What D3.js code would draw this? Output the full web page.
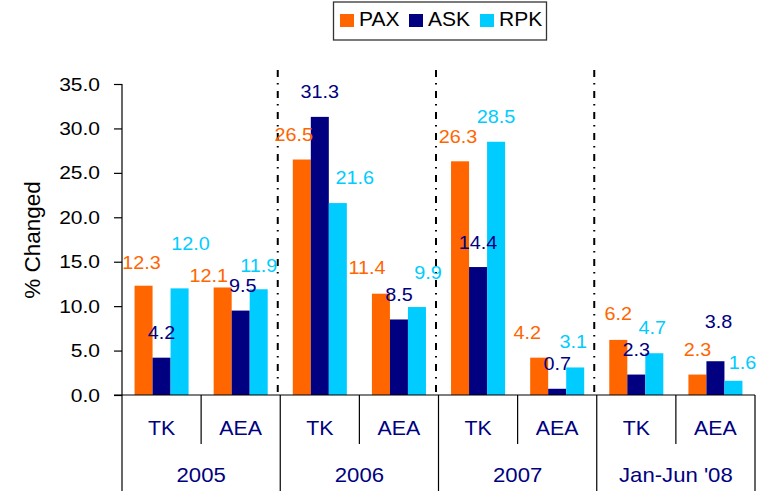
<!DOCTYPE html>
<html>
<head>
<meta charset="utf-8">
<script src="https://cdn.jsdelivr.net/npm/d3@7"></script>
<style>
  body { margin: 0; background: #fff; }
  svg { display: block; font-family: "Liberation Sans", Arial, sans-serif; }
</style>
</head>
<body>
<svg id="chart" width="766" height="491"></svg>
<script>
// data
var periods = ["2005", "2006", "2007", "Jan-Jun '08"];
var carriers = ["TK", "AEA"];
var seriesNames = ["PAX", "ASK", "RPK"];
var pax = [12.3, 12.1, 26.5, 11.4, 26.3, 4.2, 6.2, 2.3];
var ask = [4.2, 9.5, 31.3, 8.5, 14.4, 0.7, 2.3, 3.8];
var rpk = [12.0, 11.9, 21.6, 9.9, 28.5, 3.1, 4.7, 1.6];
var yTicks = [0, 5, 10, 15, 20, 25, 30, 35];

var colors = { PAX: "#FF6600", ASK: "#000080", RPK: "#00CCFF" };

// hand nudges for the data labels (they were moved around in the original)
var labelNudge = {
  PAX: [[-2, 2], [-14, 13], [-8, 0], [-14, -1], [-2, 0], [-12, 0], [0, -1], [0, 0]],
  ASK: [[0, 0], [2, 0], [0, 0], [0, 0], [0, 0], [0, 0], [0, 0], [3, -15]],
  RPK: [[11, -20], [0, 1], [17, -1], [11, -10], [0, 0], [-2, -1], [-2, -1], [9, 7]]
};

var svg = d3.select("#chart");

var plotLeft = 122, plotRight = 755, plotTop = 84, plotBottom = 395;

var cats = [];
periods.forEach(function (p) {
  carriers.forEach(function (c) { cats.push(p + "|" + c); });
});

var rows = cats.map(function (k, i) {
  return { key: k, carrier: k.split("|")[1], PAX: pax[i], ASK: ask[i], RPK: rpk[i], i: i };
});

var x0 = d3.scaleBand().domain(cats).range([plotLeft, plotRight]).padding(0);
var bw = x0.bandwidth();
var x1 = d3.scaleBand().domain(seriesNames)
  .range([(bw - bw * 0.683) / 2, (bw + bw * 0.683) / 2]).padding(0);
var y = d3.scaleLinear().domain([0, 35]).range([plotBottom, plotTop]);

// stretched text helper
function addText(g, x, yy, txt, size, sx, color, anchor) {
  return g.append("text")
    .attr("transform", "translate(" + x + "," + yy + ") scale(" + sx + ",1)")
    .attr("text-anchor", anchor || "middle")
    .attr("font-size", size)
    .attr("fill", color)
    .text(txt);
}

// y axis
var yAxis = d3.axisLeft(y).tickValues(yTicks).tickSize(8).tickFormat(d3.format(".1f"));
var yg = svg.append("g").attr("transform", "translate(" + plotLeft + ",0)").call(yAxis);
yg.select(".domain").attr("stroke", "#000").attr("stroke-width", 1.2).attr("d", "M0," + plotTop + "V" + plotBottom);
yg.selectAll(".tick line").attr("stroke", "#000").attr("stroke-width", 1.2);
yg.selectAll(".tick text").remove();
yTicks.forEach(function (t) {
  addText(svg, 100, y(t) + 6.5, d3.format(".1f")(t), 17.5, 1.2, "#000", "end");
});

// y title
svg.append("text")
  .attr("transform", "translate(39.5,240) rotate(-90)")
  .attr("text-anchor", "middle")
  .attr("font-size", 22.5)
  .attr("fill", "#000")
  .text("% Changed");

// dash-dot separators between periods
for (var p = 1; p < periods.length; p++) {
  var sepX = x0(cats[p * 2]) - 2.5;
  svg.append("line")
    .attr("x1", sepX).attr("x2", sepX)
    .attr("y1", 70).attr("y2", plotBottom)
    .attr("stroke", "#000")
    .attr("stroke-width", 2)
    .attr("stroke-dasharray", "7,6,1.5,6.5");
}

// bars
var groups = svg.append("g").selectAll("g")
  .data(rows).enter().append("g")
  .attr("transform", function (d) { return "translate(" + x0(d.key) + ",0)"; });

groups.selectAll("rect")
  .data(function (d) { return seriesNames.map(function (s) { return { s: s, v: d[s] }; }); })
  .enter().append("rect")
  .attr("x", function (d) { return x1(d.s); })
  .attr("width", x1.bandwidth())
  .attr("y", function (d) { return y(d.v); })
  .attr("height", function (d) { return y(0) - y(d.v); })
  .attr("fill", function (d) { return colors[d.s]; });

// data labels
rows.forEach(function (d) {
  seriesNames.forEach(function (s) {
    var n = labelNudge[s][d.i];
    var cx = x0(d.key) + x1(s) + x1.bandwidth() / 2 + n[0];
    var cy = y(d[s]) - 25 + n[1] + 6.5;
    addText(svg, cx, cy, d3.format(".1f")(d[s]), 18, 1.1, colors[s]);
  });
});

// x axis: baseline and category table lines
svg.append("line")
  .attr("x1", 114).attr("x2", plotRight)
  .attr("y1", plotBottom).attr("y2", plotBottom)
  .attr("stroke", "#000").attr("stroke-width", 1.2);

cats.forEach(function (k, i) {
  var bx = x0(k);
  var tall = i % 2 === 0;
  svg.append("line")
    .attr("x1", bx).attr("x2", bx)
    .attr("y1", plotBottom).attr("y2", tall ? 491 : 444)
    .attr("stroke", "#000").attr("stroke-width", 1.2);
  addText(svg, bx + bw / 2, 435, k.split("|")[1], 20.5, 1.04, "#000080");
});
svg.append("line")
  .attr("x1", plotRight).attr("x2", plotRight)
  .attr("y1", plotBottom).attr("y2", 491)
  .attr("stroke", "#000").attr("stroke-width", 1.2);

periods.forEach(function (p, i) {
  var gx = x0(cats[i * 2]) + bw;
  addText(svg, gx, 482, p, 20.5, 1.08, "#000080");
});

// legend
var lg = svg.append("g");
lg.append("rect")
  .attr("x", 333.5).attr("y", 2).attr("width", 213).attr("height", 38)
  .attr("fill", "#fff").attr("stroke", "#333").attr("stroke-width", 1.3);
var legX = [340, 409, 480];
seriesNames.forEach(function (s, i) {
  lg.append("rect")
    .attr("x", legX[i]).attr("y", 14).attr("width", 14).attr("height", 13)
    .attr("fill", colors[s]);
  lg.append("text")
    .attr("x", legX[i] + 19).attr("y", 25.5)
    .attr("font-size", 21)
    .attr("fill", "#000")
    .text(s);
});
</script>
</body>
</html>
